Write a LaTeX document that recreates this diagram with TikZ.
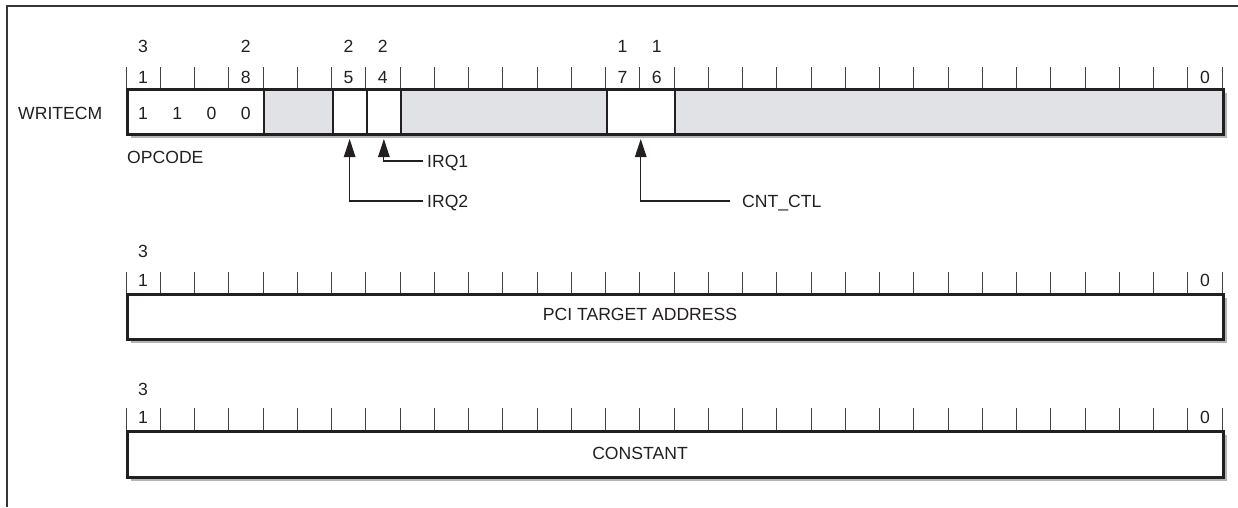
\documentclass[tikz,border=0pt]{standalone}
\usepackage{fontspec}
\setmainfont{Liberation Sans}
\usetikzlibrary{arrows.meta}
\definecolor{fieldgray}{RGB}{225,226,230}
\definecolor{shadowgray}{RGB}{178,180,182}
\definecolor{ink}{RGB}{35,31,32}
\begin{document}
\begin{tikzpicture}[x=1pt,y=-1pt,
  lbl/.style={font=\fontsize{17.6}{20}\selectfont, text=ink, inner sep=0pt, text height=12.6pt, text depth=0pt},
  fieldbox/.style={draw=ink, line width=2pt, inner sep=0pt, minimum height=45pt, anchor=north west},
  regbox/.style={draw=ink, line width=3pt, inner sep=0pt, minimum width=1096pt, minimum height=45pt, anchor=north west},
  tickline/.style={draw=ink!85, line width=0.9pt},
  shadowfill/.style={fill=shadowgray},
  arr/.style={draw=ink, line width=1.2pt, -{Triangle[length=18pt,width=11.5pt]}, shorten >=4pt},
]
\useasboundingbox (0,0) rectangle (1238,507);
% frame
\draw[ink!90, line width=1.5pt] (7,507) -- (7,6) -- (1238,6);

% ---------- register 1 : WRITECM ----------
\fill[shadowfill] (131,93) rectangle (1227,138);
\foreach \k in {0,...,32} \draw[tickline] ({126+\k*34.25},67) -- ({126+\k*34.25},88);
\node[fieldbox, fill=white, minimum width={4*34.25pt}] (opc) at (126,88) {};
\node[fieldbox, fill=fieldgray, minimum width={2*34.25pt}] (resa) at ({126+4*34.25},88) {};
\node[fieldbox, fill=white, minimum width={34.25pt}] (irqtwo) at ({126+6*34.25},88) {};
\node[fieldbox, fill=white, minimum width={34.25pt}] (irqone) at ({126+7*34.25},88) {};
\node[fieldbox, fill=fieldgray, minimum width={6*34.25pt}] (resb) at ({126+8*34.25},88) {};
\node[fieldbox, fill=white, minimum width={2*34.25pt}] (cnt) at ({126+14*34.25},88) {};
\node[fieldbox, fill=fieldgray, minimum width={16*34.25pt}] (resc) at ({126+16*34.25},88) {};
\node[regbox] (wr) at (126,88) {};

% bit numbers
\node[lbl] (n31a) at ({126+0.5*34.25},46) {3};
\node[lbl] (n31b) at ({126+0.5*34.25},77) {1};
\node[lbl] (n28a) at ({126+3.5*34.25},46) {2};
\node[lbl] (n28b) at ({126+3.5*34.25},77) {8};
\node[lbl] (n25a) at ({126+6.5*34.25},46) {2};
\node[lbl] (n25b) at ({126+6.5*34.25},77) {5};
\node[lbl] (n24a) at ({126+7.5*34.25},46) {2};
\node[lbl] (n24b) at ({126+7.5*34.25},77) {4};
\node[lbl] (n17a) at ({126+14.5*34.25},46) {1};
\node[lbl] (n17b) at ({126+14.5*34.25},77) {7};
\node[lbl] (n16a) at ({126+15.5*34.25},46) {1};
\node[lbl] (n16b) at ({126+15.5*34.25},77) {6};
\node[lbl] (n0) at ({126+31.5*34.25},77) {0};

% opcode bits
\node[lbl] (oa) at ({126+0.5*34.25},113) {1};
\node[lbl] (ob) at ({126+1.5*34.25},113) {1};
\node[lbl] (oc) at ({126+2.5*34.25},113) {0};
\node[lbl] (od) at ({126+3.5*34.25},113) {0};

\node[lbl, anchor=west] (wname) at (18,113) {WRITECM};
\node[lbl, anchor=west] (opname) at (127,157) {OPCODE};

% field labels and connectors
\node[lbl, anchor=west, inner xsep=4pt] (lirqone) at (423,161) {IRQ1};
\node[lbl, anchor=west, inner xsep=4pt] (lirqtwo) at (423,201) {IRQ2};
\node[lbl, anchor=west, inner xsep=12pt] (lcnt) at (730,201) {CNT\_CTL};
\draw[arr] (lirqone.west) -| (irqone.south);
\draw[arr] (lirqtwo.west) -| (irqtwo.south);
\draw[arr] (lcnt.west) -| (cnt.south);

% ---------- register 2 : PCI TARGET ADDRESS ----------
\fill[shadowfill] (131,298) rectangle (1227,343);
\foreach \k in {0,...,32} \draw[tickline] ({126+\k*34.25},272) -- ({126+\k*34.25},293);
\node[regbox, fill=white] (pci) at (126,293) {};
\node[lbl] (pcitxt) at (640,314.5) {PCI TARGET ADDRESS};
\node[lbl] (m31a) at ({126+0.5*34.25},251) {3};
\node[lbl] (m31b) at ({126+0.5*34.25},280) {1};
\node[lbl] (m0) at ({126+31.5*34.25},280) {0};

% ---------- register 3 : CONSTANT ----------
\fill[shadowfill] (131,435) rectangle (1227,481);
\foreach \k in {0,...,32} \draw[tickline] ({126+\k*34.25},408) -- ({126+\k*34.25},430);
\node[regbox, fill=white, minimum height=46pt] (cst) at (126,430) {};
\node[lbl] (csttxt) at (640,453) {CONSTANT};
\node[lbl] (k31a) at ({126+0.5*34.25},389) {3};
\node[lbl] (k31b) at ({126+0.5*34.25},417) {1};
\node[lbl] (k0) at ({126+31.5*34.25},417) {0};
\end{tikzpicture}
\end{document}
